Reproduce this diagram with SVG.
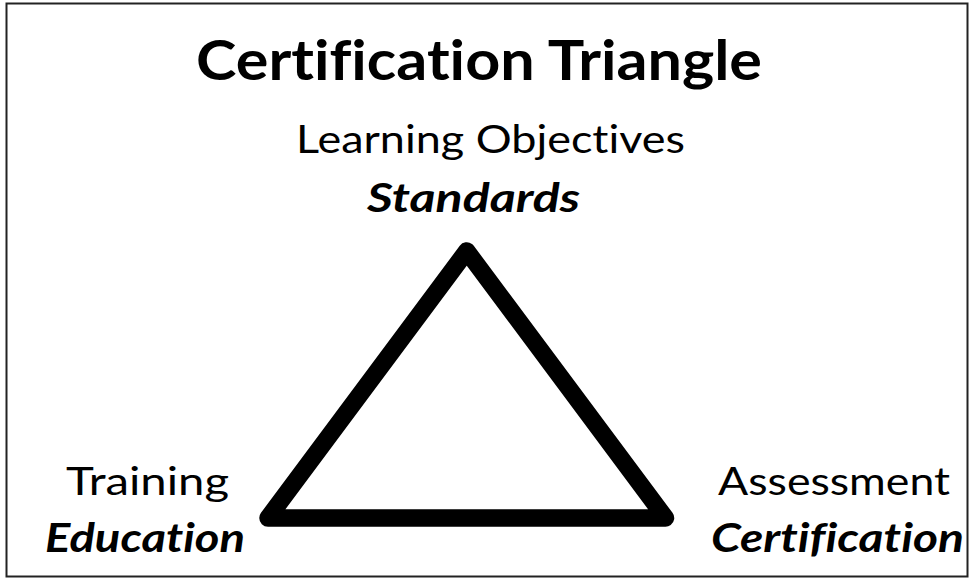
<svg xmlns="http://www.w3.org/2000/svg" width="970" height="579" viewBox="0 0 970 579">
  <style>
    text { font-family: Lato, "Liberation Sans", sans-serif; fill: #000; font-variant-ligatures: none; font-feature-settings: "liga" 0, "clig" 0, "dlig" 0; }
    .title { font-size: 56px; font-weight: bold; }
    .reg { font-size: 39px; font-weight: normal; }
    .em { font-size: 40px; font-weight: bold; font-style: italic; }
    .tri { fill: none; stroke: #000; stroke-width: 17.5; stroke-linejoin: round; }
  </style>
  <rect x="0" y="0" width="970" height="579" fill="#fff"/>
  <rect id="frame" x="6.5" y="3.5" width="961" height="573" fill="none" stroke="#222" stroke-width="2"/>
  <g id="title">
    <text class="title" x="196" y="80" textLength="566" lengthAdjust="spacingAndGlyphs">Certification Triangle</text>
  </g>
  <g id="connectors">
    <polygon class="tri" points="466.75,251 665.5,518 268,518"/>
  </g>
  <g id="node-top">
    <text class="reg" x="296" y="153" textLength="389" lengthAdjust="spacingAndGlyphs">Learning Objectives</text>
    <text class="em" x="367" y="212" textLength="213" lengthAdjust="spacingAndGlyphs">Standards</text>
  </g>
  <g id="node-left">
    <text class="reg" x="66" y="495" textLength="163" lengthAdjust="spacingAndGlyphs">Training</text>
    <text class="em" x="45" y="552" textLength="200" lengthAdjust="spacingAndGlyphs">Education</text>
  </g>
  <g id="node-right">
    <text class="reg" x="718" y="495" textLength="232" lengthAdjust="spacingAndGlyphs">Assessment</text>
    <text class="em" x="711" y="552" textLength="253" lengthAdjust="spacingAndGlyphs">Certification</text>
  </g>
</svg>
